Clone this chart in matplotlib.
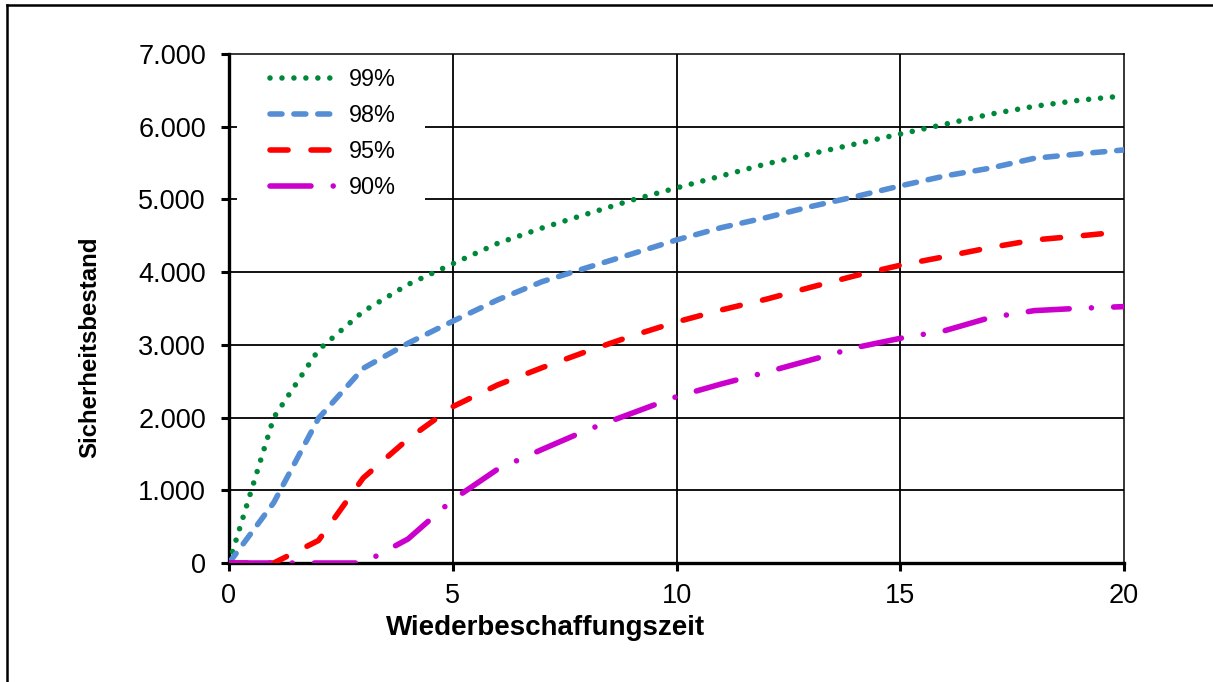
import matplotlib
matplotlib.use("Agg")
import matplotlib.pyplot as plt
from matplotlib.lines import Line2D
from matplotlib.patches import Rectangle
from matplotlib.ticker import FuncFormatter

plt.rcParams['font.family'] = ['Liberation Sans', 'DejaVu Sans']
plt.rcParams['lines.scale_dashes'] = False

# data
lead_time = list(range(0, 21))
ss_99 = [0, 2000, 2930, 3460, 3830, 4115, 4395, 4608, 4800, 4990, 5158,
         5323, 5488, 5626, 5763, 5900, 6034, 6171, 6281, 6364, 6424]
ss_98 = [0, 830, 1990, 2678, 3022, 3325, 3618, 3870, 4062, 4250, 4443,
         4612, 4750, 4902, 5039, 5186, 5323, 5429, 5566, 5626, 5681]
ss_95 = [0, 0, 310, 1170, 1705, 2150, 2448, 2687, 2911, 3122, 3315,
         3480, 3627, 3792, 3952, 4095, 4214, 4337, 4443, 4498, 4558]
ss_90 = [0, 0, 0, 0, 330, 870, 1289, 1563, 1829, 2059, 2288,
         2462, 2623, 2792, 2962, 3090, 3196, 3374, 3471, 3503, 3526]

series = [
    ('99%', ss_99, '#00883a', (0, (0.01, 8.6))),
    ('98%', ss_98, '#558ed5', (0, (8.6, 8.6))),
    ('95%', ss_95, '#ff0000', (0, (13.0, 16.5))),
    ('90%', ss_90, '#cc00cc', (0, (29.5, 16.0, 0.01, 16.0))),
]

fig = plt.figure(figsize=(12.13, 6.82), dpi=100)
ax = fig.add_axes([229 / 1213, 1 - 563 / 682, (1124 - 229) / 1213, (563 - 54) / 682])

for label, vals, color, ls in series:
    ax.plot(lead_time, vals, color=color, linestyle=ls, linewidth=4.0,
            dash_capstyle='round', solid_capstyle='round', label=label, zorder=3)

ax.set_xlim(0, 20)
ax.set_ylim(0, 7000)
ax.set_xticks([0, 5, 10, 15, 20])
ax.set_yticks(range(0, 7001, 1000))
ax.yaxis.set_major_formatter(FuncFormatter(lambda v, p: f"{v:,.0f}".replace(",", ".")))

# gridlines
for v in range(1000, 7000, 1000):
    ax.axhline(v, color='black', linewidth=1.3, zorder=1)
for v in [5, 10, 15]:
    ax.axvline(v, color='black', linewidth=1.3, zorder=1)

ax.spines['left'].set_linewidth(2.4)
ax.spines['bottom'].set_linewidth(2.4)
ax.spines['top'].set_linewidth(1.1)
ax.spines['right'].set_linewidth(1.1)
ax.tick_params(axis='both', direction='out', length=5.5, width=2.2,
               labelsize=19.5, colors='black')
ax.tick_params(axis='x', pad=9)
ax.tick_params(axis='y', pad=11)

# white legend area hiding the gridlines behind it
ax.add_patch(Rectangle((0.009, 0.684), 0.21, 0.31, transform=ax.transAxes,
                       facecolor='white', edgecolor='none', zorder=2))
leg = ax.legend(loc='upper left', bbox_to_anchor=(0.0458, 0.972), frameon=False,
                fontsize=16.8, handlelength=2.85, handletextpad=0.55,
                labelspacing=0.56, borderpad=0, borderaxespad=0)
leg.set_zorder(5)

fig.text(546 / 1213, 1 - 628 / 682, 'Wiederbeschaffungszeit', fontsize=20,
         fontweight='bold', ha='center', va='center')
fig.text(90 / 1213, 1 - 347 / 682, 'Sicherheitsbestand', fontsize=17.3,
         fontweight='bold', ha='center', va='center', rotation=90)

# outer frame of the chart area (runs off the right and bottom edges)
fig.add_artist(Line2D([7 / 1213, 1.01], [1 - 5 / 682, 1 - 5 / 682],
                      transform=fig.transFigure, color='black', linewidth=1.8))
fig.add_artist(Line2D([7 / 1213, 7 / 1213], [1 - 5 / 682, -0.01],
                      transform=fig.transFigure, color='black', linewidth=1.8))

fig.savefig('out.png', dpi=100)
